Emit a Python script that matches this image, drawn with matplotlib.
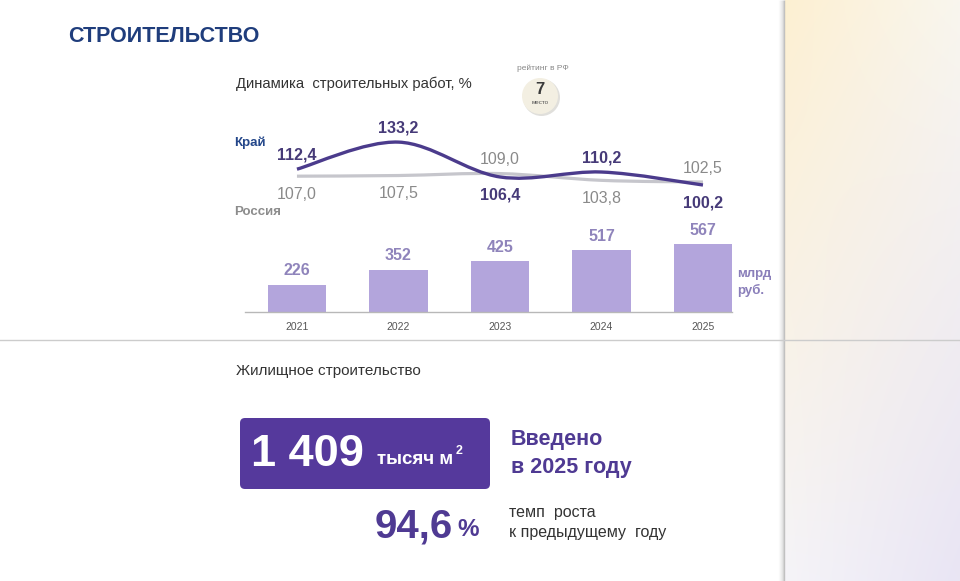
import numpy as np
import matplotlib
matplotlib.use('Agg')
import matplotlib.pyplot as plt
from matplotlib.path import Path
from matplotlib.patches import PathPatch, FancyBboxPatch, Circle

plt.rcParams['font.family'] = ['Liberation Sans', 'DejaVu Sans']

# ---------------- data ----------------
years = ['2021', '2022', '2023', '2024', '2025']
krai = [112.4, 133.2, 106.4, 110.2, 100.2]
russia = [107.0, 107.5, 109.0, 103.8, 102.5]
volume = [226, 352, 425, 517, 567]
krai_place = ['above', 'above', 'below', 'above', 'below']
russia_place = ['below', 'below', 'above', 'below', 'above']
housing_value = '1 409'
housing_growth = '94,6'
rating = '7'

W, H = 960, 581
fig = plt.figure(figsize=(W / 100, H / 100), dpi=100)
fig.patch.set_facecolor('white')


def frac(x0, y0, x1, y1):
    return [x0 / W, 1 - y1 / H, (x1 - x0) / W, (y1 - y0) / H]


def fmt(v):
    return f"{v:.1f}".replace('.', ',')


# ---------------- background / decoration ----------------
bg = fig.add_axes([0, 0, 1, 1], zorder=0)
bg.set_xlim(0, W)
bg.set_ylim(H, 0)
bg.axis('off')

# right gradient panel
tl = np.array([253, 240, 210]) / 255
tr = np.array([249, 246, 238]) / 255
bl = np.array([245, 244, 248]) / 255
br = np.array([233, 229, 244]) / 255
u = np.linspace(0, 1, 120)[None, :, None]
v = np.linspace(0, 1, 300)[:, None, None]
grad = (1 - u) * (1 - v) * tl + u * (1 - v) * tr + (1 - u) * v * bl + u * v * br
bg.imshow(grad, extent=[785, W, H, 0], aspect='auto', zorder=1)
for i, a in enumerate([0.03, 0.06, 0.10, 0.15, 0.25, 0.45]):
    bg.plot([779 + i, 779 + i], [0, H], color='#808080', alpha=a, lw=1, zorder=2,
            solid_capstyle='butt')

# separator
bg.plot([0, W], [340, 340], color='#cccccc', lw=1, zorder=3)

# title
bg.text(68, 37, 'СТРОИТЕЛЬСТВО', fontsize=15.5, fontweight='bold', color='#1f3d7c',
        ha='left', va='center', family=['Liberation Sans Narrow', 'Liberation Sans'])
bg.text(236, 84, 'Динамика  строительных работ, %', fontsize=10.6, color='#333333',
        ha='left', va='center')

# rating badge
bg.text(543, 68, 'рейтинг в РФ', fontsize=6, color='#888888', ha='center', va='center')
bg.add_patch(Circle((541.5, 97.5), 18.5, fc='#a8a49a', ec='none', alpha=0.35, zorder=3))
bg.add_patch(Circle((540, 96), 18, fc='#f3efe2', ec='none', zorder=4))
bg.text(540, 90, rating, fontsize=12, fontweight='bold', color='#3a3a3a',
        ha='center', va='center', zorder=5)
bg.text(540, 103, 'место', fontsize=4.5, color='#555555', ha='center', va='center', zorder=5)

# series names
bg.text(234, 143, 'Край', fontsize=9.5, fontweight='bold', color='#24478a',
        ha='left', va='center')
bg.text(234, 212, 'Россия', fontsize=9.5, fontweight='bold', color='#8c8c8c',
        ha='left', va='center')
bg.text(737, 274, 'млрд', fontsize=9.5, fontweight='bold', color='#8a7fba',
        ha='left', va='center')
bg.text(737, 290, 'руб.', fontsize=9.5, fontweight='bold', color='#8a7fba',
        ha='left', va='center')

# ---------------- line chart ----------------
x = np.arange(len(years))
axl = fig.add_axes(frac(245, 120, 732, 220), zorder=2)
axl.set_xlim(-0.512, 4.286)
axl.set_ylim(73.3, 150.2)
axl.axis('off')
axl.patch.set_alpha(0)


def smooth_path(xs, ys):
    pts = np.column_stack([xs, ys]).astype(float)
    n = len(pts)
    verts = [pts[0]]
    codes = [Path.MOVETO]
    for i in range(n - 1):
        p0 = pts[max(i - 1, 0)]
        p1 = pts[i]
        p2 = pts[i + 1]
        p3 = pts[min(i + 2, n - 1)]
        verts += [p1 + (p2 - p0) / 6, p2 - (p3 - p1) / 6, p2]
        codes += [Path.CURVE4] * 3
    return Path(verts, codes)


axl.add_patch(PathPatch(smooth_path(x, russia), fc='none', ec='#c6c6cc', lw=2.3, zorder=2))
axl.add_patch(PathPatch(smooth_path(x, krai), fc='none', ec='#4b3b8c', lw=2.4, zorder=3))

for xi, val, pl in zip(x, krai, krai_place):
    off = 10 if pl == 'above' else -13
    axl.annotate(fmt(val), (xi, val), xytext=(0, off), textcoords='offset points',
                 ha='center', va='center', fontsize=11.5, fontweight='bold', color='#463a78')
for xi, val, pl in zip(x, russia, russia_place):
    off = 10 if pl == 'above' else -13
    axl.annotate(fmt(val), (xi, val), xytext=(0, off), textcoords='offset points',
                 ha='center', va='center', fontsize=11.5, color='#8a8a8a')

# ---------------- bar chart ----------------
axb = fig.add_axes(frac(245, 232, 732, 312), zorder=2)
axb.set_xlim(-0.512, 4.286)
axb.set_ylim(0, 666.7)
axb.patch.set_alpha(0)
axb.bar(x, volume, width=0.58, color='#b3a5dc', zorder=2)
for xi, val in zip(x, volume):
    axb.annotate(str(val), (xi, val), xytext=(0, 10), textcoords='offset points',
                 ha='center', va='center', fontsize=11.5, fontweight='bold', color='#8f84bb')
for s in ['top', 'left', 'right']:
    axb.spines[s].set_visible(False)
axb.spines['bottom'].set_color('#b8b8b8')
axb.spines['bottom'].set_linewidth(1)
axb.set_yticks([])
axb.set_xticks(x)
axb.set_xticklabels(years, fontsize=7.5, color='#555555')
axb.tick_params(axis='x', length=0, pad=7.5)

# ---------------- housing block ----------------
bg.text(236, 371, 'Жилищное строительство', fontsize=11, color='#333333',
        ha='left', va='center')
bg.add_patch(FancyBboxPatch((242, 420), 246, 67, boxstyle='round,pad=2,rounding_size=5',
                            fc='#55399c', ec='none', zorder=3))
bg.text(251, 455, housing_value, fontsize=32.5, fontweight='bold', color='white',
        ha='left', va='center', zorder=4)
bg.text(377, 460, 'тысяч м', fontsize=13.5, fontweight='bold', color='white',
        ha='left', va='center', zorder=4)
bg.text(456, 451, '2', fontsize=9, fontweight='bold', color='white',
        ha='left', va='center', zorder=4)
bg.text(511, 440, 'Введено', fontsize=15.5, fontweight='bold', color='#4f3a93',
        ha='left', va='center')
bg.text(511, 467, 'в 2025 году', fontsize=15.5, fontweight='bold', color='#4f3a93',
        ha='left', va='center')
bg.text(453, 526, housing_growth, fontsize=29, fontweight='bold', color='#4f3a93',
        ha='right', va='center')
bg.text(457, 529, '%', fontsize=17.5, fontweight='bold', color='#4f3a93',
        ha='left', va='center')
bg.text(509, 512, 'темп  роста', fontsize=11.5, color='#333333', ha='left', va='center')
bg.text(509, 533, 'к предыдущему  году', fontsize=11.5, color='#333333',
        ha='left', va='center')

fig.savefig('out.png', dpi=100)
